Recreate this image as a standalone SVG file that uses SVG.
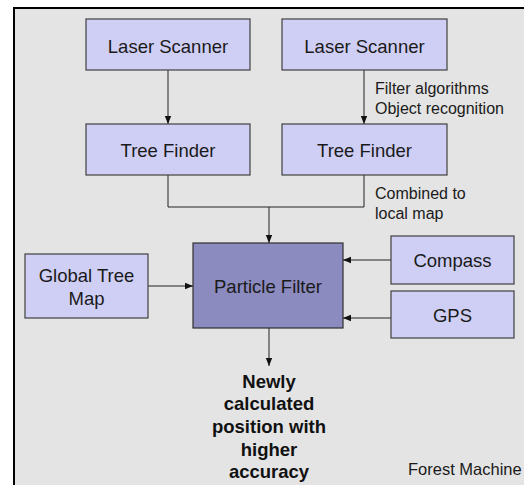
<svg xmlns="http://www.w3.org/2000/svg" width="524" height="485" viewBox="0 0 524 485">
<style>
.box{fill:#cfcff5;stroke:#404040;stroke-width:1.2}
.pf{fill:#8b8bbf;stroke:#303030;stroke-width:1.2}
.t{font-family:"Liberation Sans",Arial,sans-serif;font-size:18.5px;fill:#1a1a1a;text-anchor:middle}
.l{font-family:"Liberation Sans",Arial,sans-serif;font-size:16px;fill:#1a1a1a}
.b{font-family:"Liberation Sans",Arial,sans-serif;font-size:18.5px;font-weight:bold;fill:#111;text-anchor:middle}
.c{fill:none;stroke:#222;stroke-width:1}
</style>
<defs>
<marker id="ah" viewBox="0 0 8 8" refX="8" refY="4" markerWidth="8" markerHeight="8" markerUnits="userSpaceOnUse" orient="auto">
<path d="M0,0.8 L8,4 L0,7.2 Z" fill="#111"/>
</marker>
</defs>
<rect x="0" y="0" width="524" height="485" fill="#ffffff"/>
<rect x="14" y="8" width="530" height="500" fill="#e4e4e4" stroke="#000" stroke-width="2"/>
<g id="connectors">
<line class="c" x1="168" y1="70" x2="168" y2="124" marker-end="url(#ah)"/>
<line class="c" x1="364" y1="70" x2="364" y2="124" marker-end="url(#ah)"/>
<polyline class="c" points="168,175 168,207 364,207 364,175"/>
<line class="c" x1="269" y1="207" x2="269" y2="243" marker-end="url(#ah)"/>
<line class="c" x1="148" y1="286" x2="193" y2="286" marker-end="url(#ah)"/>
<line class="c" x1="391" y1="260" x2="343" y2="260" marker-end="url(#ah)"/>
<line class="c" x1="391" y1="318" x2="343" y2="318" marker-end="url(#ah)"/>
<line class="c" x1="269" y1="328" x2="269" y2="366" marker-end="url(#ah)"/>
<text class="l" x="375" y="94">Filter algorithms</text>
<text class="l" x="375" y="114">Object recognition</text>
<text class="l" x="375" y="199">Combined to</text>
<text class="l" x="375" y="219">local map</text>
</g>
<g id="laser1"><rect class="box" x="86" y="19" width="164" height="51"/><text class="t" x="168" y="53">Laser Scanner</text></g>
<g id="laser2"><rect class="box" x="282" y="19" width="165" height="51"/><text class="t" x="364.5" y="53">Laser Scanner</text></g>
<g id="tree1"><rect class="box" x="86" y="124" width="164" height="51"/><text class="t" x="168" y="157">Tree Finder</text></g>
<g id="tree2"><rect class="box" x="282" y="124" width="165" height="51"/><text class="t" x="364.5" y="157">Tree Finder</text></g>
<g id="globalmap"><rect class="box" x="25" y="254" width="123" height="64"/><text class="t" x="86.5" y="282">Global Tree</text><text class="t" x="86.5" y="305">Map</text></g>
<g id="particle"><rect class="pf" x="193" y="243" width="150" height="85"/><text class="t" x="268" y="293">Particle Filter</text></g>
<g id="compass"><rect class="box" x="391" y="236" width="123" height="48"/><text class="t" x="452.5" y="267">Compass</text></g>
<g id="gps"><rect class="box" x="391" y="291" width="123" height="47"/><text class="t" x="452.5" y="322">GPS</text></g>
<g id="result">
<text class="b" x="269" y="388">Newly</text>
<text class="b" x="269" y="410">calculated</text>
<text class="b" x="269" y="433">position with</text>
<text class="b" x="269" y="456">higher</text>
<text class="b" x="269" y="478">accuracy</text>
</g>
<g id="label-forest"><text class="l" x="408" y="475" style="font-size:16.5px">Forest Machine</text></g>
</svg>
